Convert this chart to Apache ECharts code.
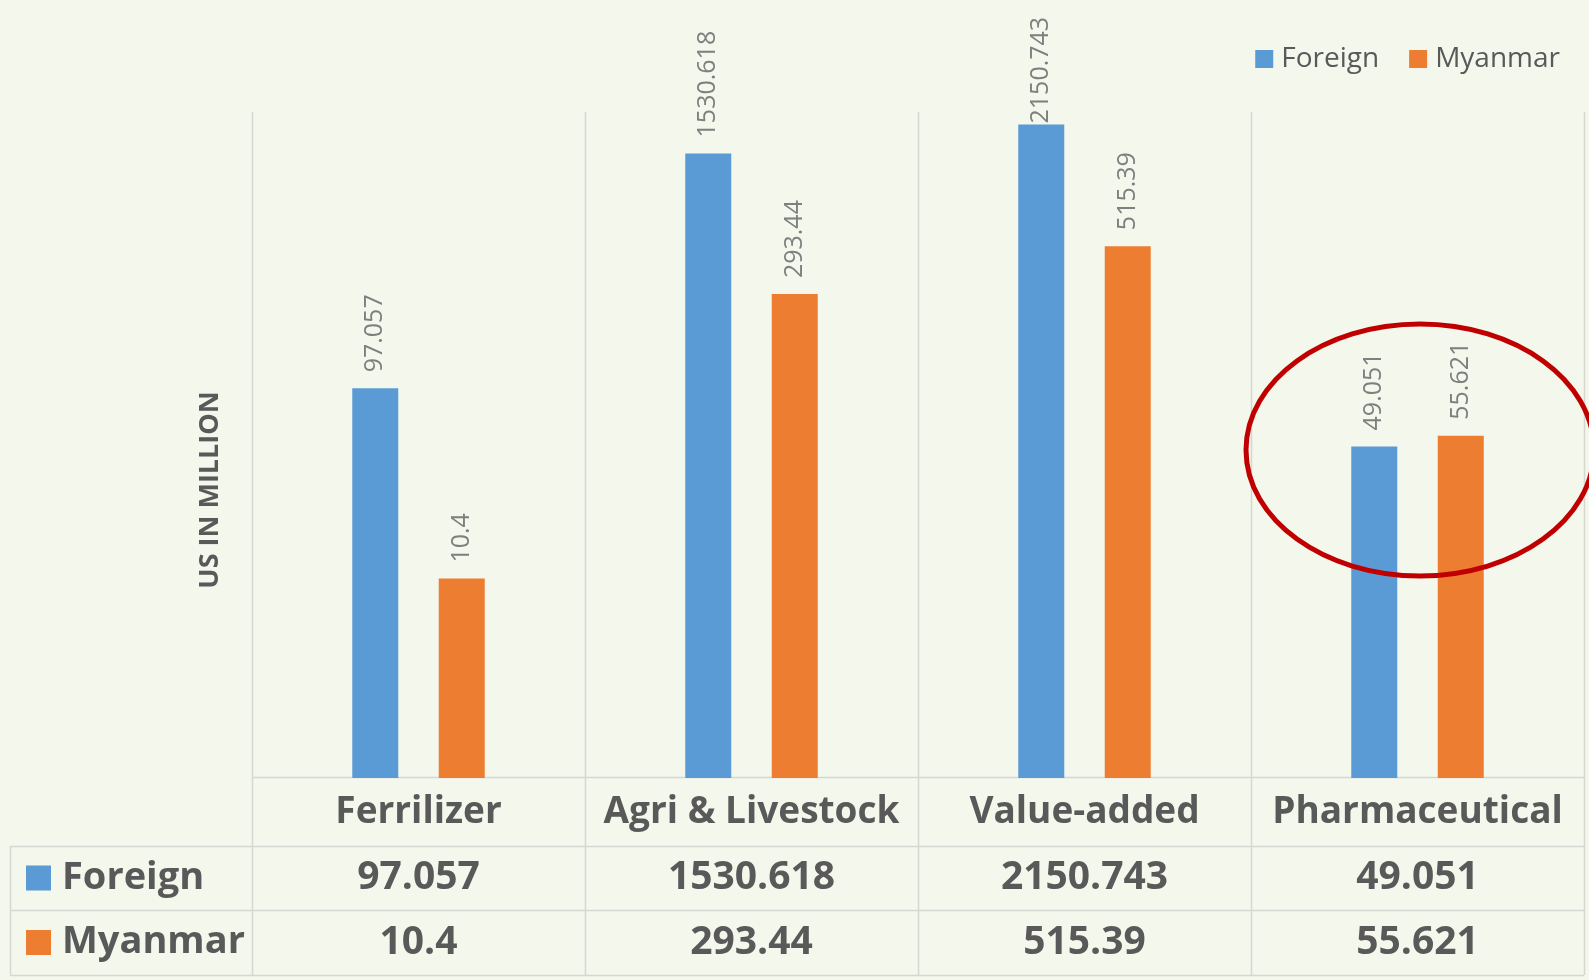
<!DOCTYPE html>
<html>
<head>
<meta charset="utf-8">
<style>
html,body{margin:0;padding:0;background:#f3f7ec;}
#chart{width:1589px;height:980px;}
</style>
<script src="https://cdn.jsdelivr.net/npm/echarts@6/dist/echarts.min.js"></script>
</head>
<body>
<div id="chart"></div>
<script>
// ---- data ----
const categories = ['Ferrilizer', 'Agri & Livestock', 'Value-added', 'Pharmaceutical'];
const seriesNames = ['Foreign', 'Myanmar'];
const foreign = [97.057, 1530.618, 2150.743, 49.051];
const myanmar = [10.4, 293.44, 515.39, 55.621];
const yAxisTitle = 'US IN MILLION';

// ---- layout ----
const W = 1589, H = 980;
const GL = 252, GR = 1584, GT = 112, GB = 778;
const ROWS = [778, 846, 910, 975];
const TABLE_LEFT = 10;
const FONT = 'Open Sans';
const BLUE = '#5b9bd5', ORANGE = '#ed7d31';
const GRID_LINE = '#d5d8d2';
const TXT = '#595959';

const chart = echarts.init(document.getElementById('chart'));

const colW = (GR - GL) / categories.length;
const graphics = [];
// vertical category boundaries through plot and table
for (let i = 0; i <= categories.length; i++) {
  const x = Math.round(GL + i * colW) + 0.5;
  graphics.push({type:'line', silent:true, shape:{x1:x, y1:GT, x2:x, y2:ROWS[3]}, style:{stroke:GRID_LINE, lineWidth:1.5}});
}
// table horizontal lines
graphics.push({type:'line', silent:true, shape:{x1:GL, y1:ROWS[0]-0.5, x2:GR, y2:ROWS[0]-0.5}, style:{stroke:GRID_LINE, lineWidth:1.5}});
for (let r = 1; r < ROWS.length; r++) {
  graphics.push({type:'line', silent:true, shape:{x1:TABLE_LEFT, y1:ROWS[r]+0.5, x2:GR, y2:ROWS[r]+0.5}, style:{stroke:GRID_LINE, lineWidth:1.5}});
}
graphics.push({type:'line', silent:true, shape:{x1:TABLE_LEFT+0.5, y1:ROWS[1], x2:TABLE_LEFT+0.5, y2:ROWS[3]}, style:{stroke:GRID_LINE, lineWidth:1.5}});
// row headers with legend keys
[[seriesNames[0], BLUE], [seriesNames[1], ORANGE]].forEach((d, r) => {
  const cy = (ROWS[r+1] + ROWS[r+2]) / 2;
  graphics.push({type:'rect', silent:true, shape:{x:26, y:cy-12.5, width:25, height:25}, style:{fill:d[1]}});
  graphics.push({type:'text', silent:true, x:62, y:cy, style:{text:d[0], fill:TXT, font:'bold 38px "' + FONT + '"', textVerticalAlign:'middle', textAlign:'left'}});
});
// y-axis title
graphics.push({type:'text', silent:true, x:210, y:490, rotation:Math.PI/2,
  style:{text:yAxisTitle, fill:TXT, font:'bold 27px "' + FONT + '"', textAlign:'center', textVerticalAlign:'middle'}});
// annotation ellipse
graphics.push({type:'ellipse', silent:true, shape:{cx:1420, cy:450, rx:174, ry:126}, style:{fill:'none', stroke:'#c00000', lineWidth:5}, z:100});

const tableAxis = (vals, margin) => ({
  type:'category', gridIndex:0, position:'bottom', offset:0,
  data: vals.map(String),
  axisLine:{show:false}, axisTick:{show:false}, splitLine:{show:false},
  axisLabel:{interval:0, margin:margin, verticalAlign:'middle', color:TXT, fontFamily:FONT, fontWeight:'bold', fontSize:39}
});

const labelFor = (vals) => vals.map((v) => {
  // top-most label is clamped to the chart's top edge in the source
  if (v === Math.max(...foreign, ...myanmar)) return {value:v, label:{distance:1}};
  return v;
});

const barLabel = {show:true, position:'top', rotate:90, align:'left', verticalAlign:'middle', distance:16, color:'#7f7f7f', fontSize:25, fontFamily:FONT};

chart.setOption({
  backgroundColor:'#f3f7ec',
  animation:false,
  textStyle:{fontFamily:FONT},
  legend:{
    data:seriesNames, right:24, top:40, icon:'rect', itemWidth:18, itemHeight:18, itemGap:30,
    textStyle:{color:TXT, fontSize:28, fontFamily:FONT, padding:[0,0,0,3]}
  },
  grid:{left:GL, right:W-GR, top:GT, bottom:H-GB, containLabel:false},
  xAxis:[
    {
      type:'category', data:categories, position:'bottom',
      axisLine:{show:false}, axisTick:{show:false}, splitLine:{show:false},
      axisLabel:{interval:0, margin:(ROWS[0]+ROWS[1])/2 - GB, verticalAlign:'middle', color:TXT, fontFamily:FONT, fontWeight:'bold', fontSize:37}
    },
    tableAxis(foreign, (ROWS[1]+ROWS[2])/2 - GB),
    tableAxis(myanmar, (ROWS[2]+ROWS[3])/2 - GB)
  ],
  yAxis:{
    type:'log', logBase:10, min:1, max:2490,
    axisLine:{show:false}, axisTick:{show:false}, axisLabel:{show:false}, splitLine:{show:false}
  },
  series:[
    {name:seriesNames[0], type:'bar', data:labelFor(foreign), barWidth:46, barGap:'88%', itemStyle:{color:BLUE}, label:barLabel},
    {name:seriesNames[1], type:'bar', data:labelFor(myanmar), barWidth:46, barGap:'88%', itemStyle:{color:ORANGE}, label:barLabel}
  ],
  graphic:graphics
});
</script>
</body>
</html>
